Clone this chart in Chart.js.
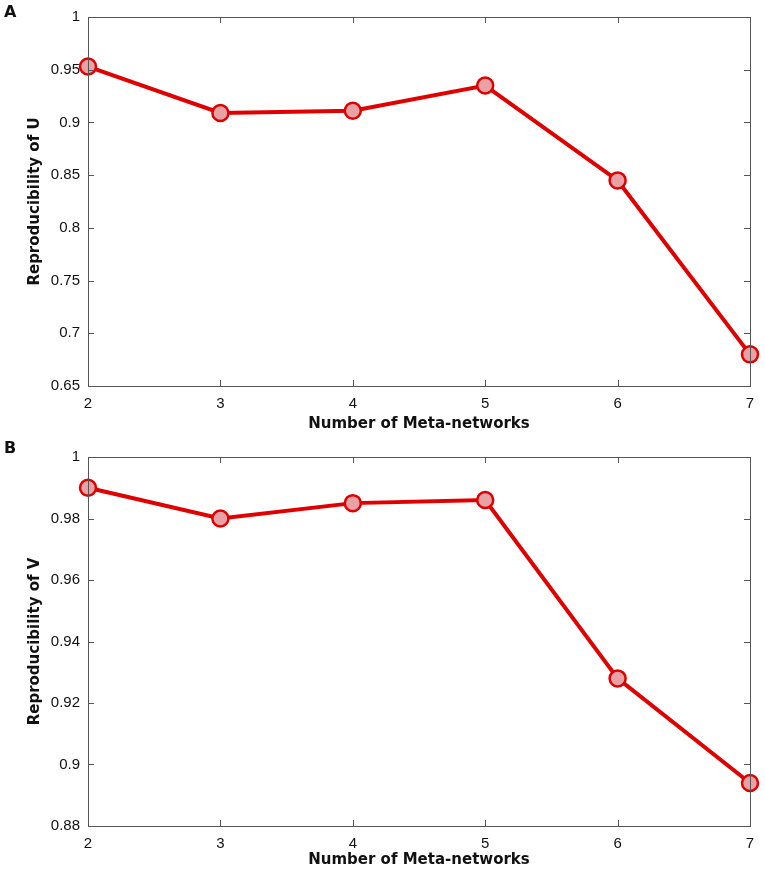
<!DOCTYPE html>
<html>
<head>
<meta charset="utf-8">
<script src="https://cdn.jsdelivr.net/npm/chart.js@4.4.1/dist/chart.umd.min.js"></script>
<style>
  html, body { margin: 0; padding: 0; background: #fff; }
  #wrap { position: relative; width: 765px; height: 872px; }
  .panel { position: absolute; left: 0; width: 765px; }
  .tag { position: absolute; left: 4px; font: bold 16px "DejaVu Sans", sans-serif; color: #111; }
</style>
</head>
<body>
<div id="wrap">
  <div class="panel" style="top:0;height:440px"><canvas id="chartU"></canvas></div>
  <div class="panel" style="top:440px;height:432px"><canvas id="chartV"></canvas></div>
  <div class="tag" style="top:2px">A</div>
  <div class="tag" style="top:438px">B</div>
</div>
<script>
// dati
const metaNetworks = [2, 3, 4, 5, 6, 7];
const reproU = [0.953, 0.909, 0.911, 0.935, 0.845, 0.680];
const reproV = [0.990, 0.980, 0.985, 0.986, 0.928, 0.894];
const ticksU = [0.65, 0.7, 0.75, 0.8, 0.85, 0.9, 0.95, 1];
const ticksV = [0.88, 0.9, 0.92, 0.94, 0.96, 0.98, 1];

const tickFont = { family: "Liberation Sans", size: 15 };
const titleFont = { family: "DejaVu Sans", size: 15, weight: "bold" };
const frameColor = "#555";

// cornice stile matlab con tacche verso l'interno su tutti i lati
const boxPlugin = {
  id: "box",
  afterDatasetsDraw(chart) {
    const { ctx, chartArea: a, scales } = chart;
    ctx.save();
    ctx.strokeStyle = frameColor;
    ctx.lineWidth = 1;
    ctx.strokeRect(a.left + 0.5, a.top + 0.5, a.width, a.height);
    ctx.beginPath();
    scales.x.ticks.forEach(t => {
      const x = Math.round(scales.x.getPixelForValue(t.value)) + 0.5;
      ctx.moveTo(x, a.bottom); ctx.lineTo(x, a.bottom - 6);
      ctx.moveTo(x, a.top); ctx.lineTo(x, a.top + 6);
    });
    scales.y.ticks.forEach(t => {
      const y = Math.round(scales.y.getPixelForValue(t.value)) + 0.5;
      ctx.moveTo(a.left, y); ctx.lineTo(a.left + 6, y);
      ctx.moveTo(a.right, y); ctx.lineTo(a.right - 6, y);
    });
    ctx.stroke();
    ctx.restore();
  }
};

function makeChart(id, values, yTicks, yTitle, xHeight, xTitlePad) {
  return new Chart(document.getElementById(id), {
    type: "line",
    data: {
      datasets: [{
        data: metaNetworks.map((n, i) => ({ x: n, y: values[i] })),
        borderColor: "#e10000",
        borderWidth: 4,
        backgroundColor: "#e8a2a6",
        pointBackgroundColor: "#e8a2a6",
        pointBorderColor: "#e10000",
        pointBorderWidth: 2.5,
        pointRadius: 8,
        pointHoverRadius: 8,
        tension: 0,
        clip: false
      }]
    },
    options: {
      responsive: true,
      maintainAspectRatio: false,
      animation: false,
      events: [],
      layout: { padding: { top: 14, right: 15, left: 0, bottom: 0 } },
      plugins: { legend: { display: false }, tooltip: { enabled: false } },
      scales: {
        x: {
          type: "linear",
          min: 2, max: 7,
          grid: { display: false, drawTicks: false },
          border: { display: false },
          afterBuildTicks: s => { s.ticks = metaNetworks.map(v => ({ value: v })); },
          afterFit: s => { s.height = xHeight; },
          ticks: { font: tickFont, color: "#111", padding: 9, maxRotation: 0 },
          title: { display: true, text: "Number of Meta-networks", font: titleFont, color: "#111",
                   padding: { top: 0, bottom: xTitlePad } }
        },
        y: {
          min: yTicks[0], max: yTicks[yTicks.length - 1],
          grid: { display: false, drawTicks: false },
          border: { display: false },
          afterBuildTicks: s => { s.ticks = yTicks.map(v => ({ value: v })); },
          afterFit: s => { s.width = 88; },
          ticks: { font: tickFont, color: "#111", padding: 8,
                   callback: v => String(Number(v.toFixed(2))) },
          title: { display: true, text: yTitle, font: titleFont, color: "#111",
                   padding: { top: 26, bottom: 0 } }
        }
      }
    },
    plugins: [boxPlugin]
  });
}

makeChart("chartU", reproU, ticksU, "Reproducibility of U", 54, 7);
makeChart("chartV", reproV, ticksV, "Reproducibility of V", 46, 3);
</script>
</body>
</html>
